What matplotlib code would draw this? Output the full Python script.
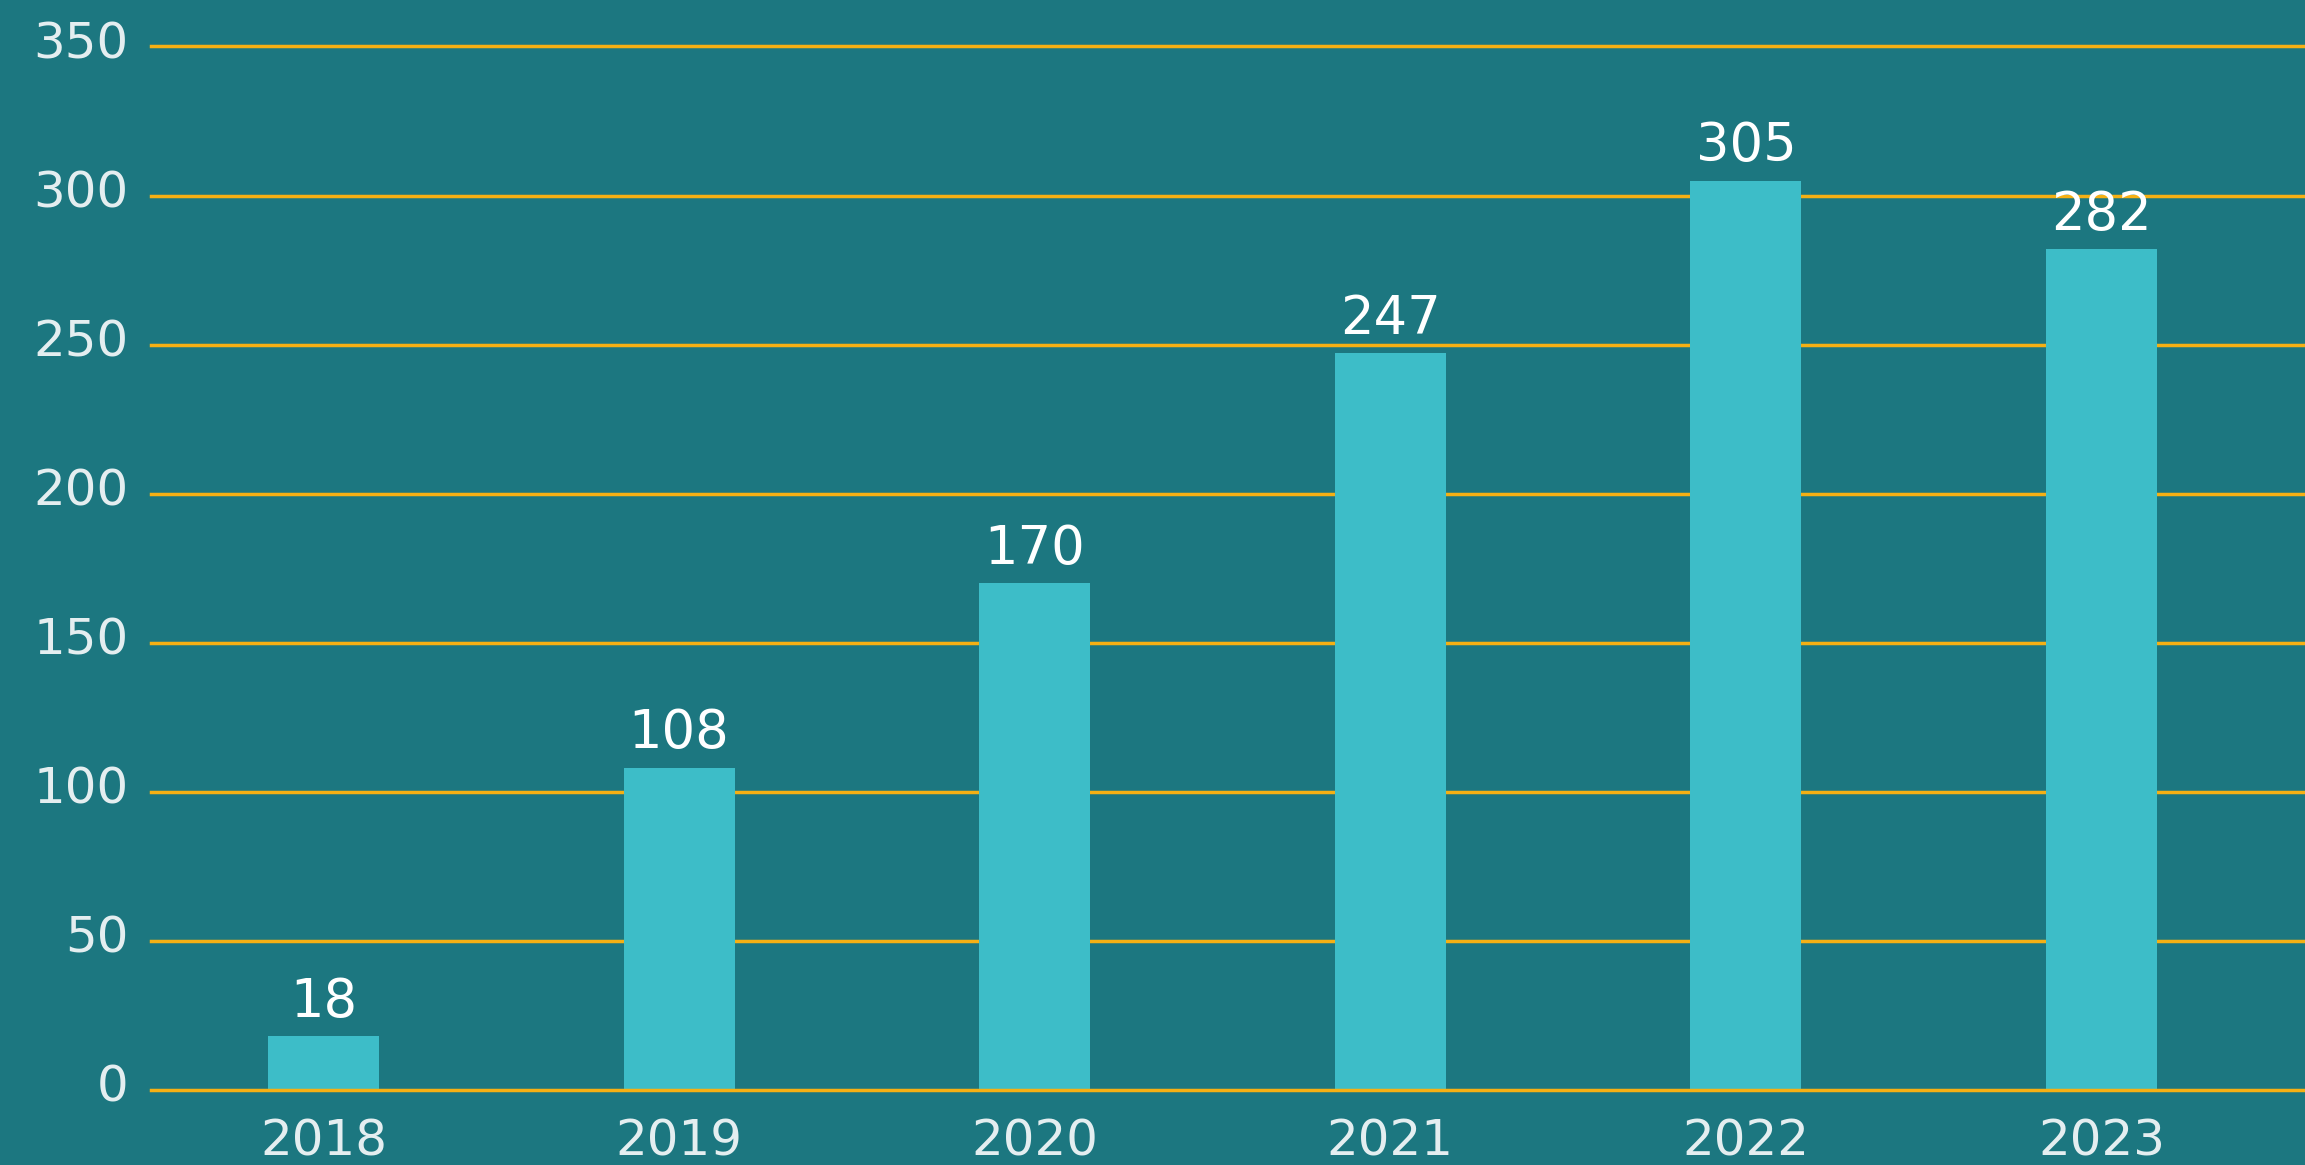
import matplotlib.pyplot as plt
import matplotlib.transforms as mtransforms

# data
years = ["2018", "2019", "2020", "2021", "2022", "2023"]
values = [18, 108, 170, 247, 305, 282]
y_ticks = [0, 50, 100, 150, 200, 250, 300, 350]

bg = "#1c7780"
bar_color = "#3dbdc8"
grid_color = "#f5b014"

fig = plt.figure(figsize=(23.05, 11.65), dpi=100)
fig.patch.set_facecolor(bg)
ax = fig.add_axes([151 / 2305, 75.4 / 1165, 1 - 151 / 2305, 1 - 75.4 / 1165])
ax.set_facecolor(bg)

x = list(range(len(years)))
ax.bar(x, values, width=0.312, color=bar_color, zorder=3)

# horizontal lines (not clipped, so the 0 line shows in full; base line on top of bars)
for t in y_ticks:
    ax.axhline(t, color=grid_color, linewidth=2.5, zorder=5 if t == 0 else 2, clip_on=False)

# value labels
for xi, v in zip(x, values):
    ax.annotate(
        f"{v}",
        (xi, v),
        textcoords="offset points",
        xytext=(0, 6),
        ha="center",
        va="bottom",
        color="white",
        fontsize=38,
        family=["Liberation Sans Narrow", "DejaVu Sans"],
        zorder=4,
    )

ax.set_xlim(-0.485, 5.572)
ax.set_ylim(0, 365.6)
ax.set_xticks(x)
ax.set_xticklabels(years)
ax.set_yticks(y_ticks)
ax.tick_params(axis="both", length=0, labelsize=36, labelcolor="#e4eef0")
ax.tick_params(axis="y", pad=16)
ax.tick_params(axis="x", pad=20)
for s in ax.spines.values():
    s.set_visible(False)

# y labels sit a bit above their lines
shift = mtransforms.ScaledTranslation(0, 5 / 72, fig.dpi_scale_trans)
for lbl in ax.get_yticklabels():
    lbl.set_transform(lbl.get_transform() + shift)

fig.savefig("out.png", dpi=100, facecolor=bg)
